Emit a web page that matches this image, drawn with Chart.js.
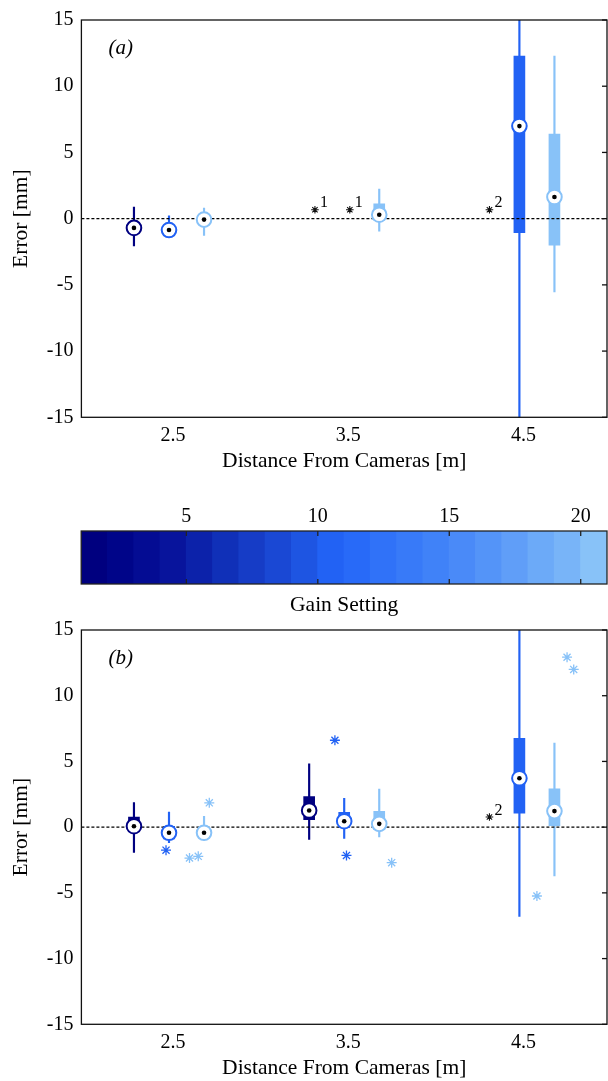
<!DOCTYPE html>
<html>
<head>
<meta charset="utf-8">
<script src="https://cdn.jsdelivr.net/npm/chart.js@4.4.0/dist/chart.umd.min.js"></script>
<style>
  body { margin: 0; background: #fff; }
  #fig { position: relative; width: 608px; height: 1081px; }
  canvas { position: absolute; left: 0; }
</style>
</head>
<body>
<div id="fig">
  <canvas id="chartA" width="608" height="480" style="top:0px"></canvas>
  <canvas id="gainBar" width="608" height="130" style="top:490px"></canvas>
  <canvas id="chartB" width="608" height="471" style="top:610px"></canvas>
</div>
<script>
// test distances [m] and the three gain settings that were compared
var distances = [2.5, 3.5, 4.5]
var gains = [1, 10, 20]
var xTicks = [2.5, 3.5, 4.5]
var yTicks = [-15, -10, -5, 0, 5, 10, 15]
var gainSteps = [1, 2, 3, 4, 5, 6, 7, 8, 9, 10, 11, 12, 13, 14, 15, 16, 17, 18, 19, 20]
var gainTicks = [5, 10, 15, 20]

// box summaries per distance: [whisker low, q1, median, q3, whisker high]; null = no result
var aGain1 = [[-2.05, -1.0, -0.7, -0.4, 0.87], null, null]
var aGain10 = [[-1.4, -1.15, -0.86, -0.55, 0.22], null, [-16, -1.06, 6.99, 12.28, 16]]
var aGain20 = [[-1.26, -0.4, -0.07, 0.25, 0.8], [-0.94, -0.1, 0.3, 1.12, 2.23], [-5.53, -2.01, 1.64, 6.38, 12.28]]

var bGain1 = [[-1.93, -0.3, 0.07, 0.77, 1.87], [-0.93, 0.57, 1.27, 2.32, 4.82], null]
var bGain10 = [[-1.18, -0.9, -0.43, 0.07, 1.15], [-0.85, 0.0, 0.45, 1.12, 2.19], [-6.79, 1.07, 3.72, 6.76, 16]]
var bGain20 = [[-1.0, -0.8, -0.43, -0.1, 0.82], [-0.75, -0.2, 0.25, 1.2, 2.89], [-3.72, 0.12, 1.22, 2.92, 6.39]]

// outliers [x, error]
var bOut10 = [[2.483, -1.75], [3.447, 6.61], [3.513, -2.15]]
var bOut20 = [[2.617, -2.35], [2.667, -2.22], [2.73, 1.85], [3.771, -2.7], [4.6, -5.24], [4.772, 12.93], [4.81, 12.0]]

// footnote markers [x, error, note]
var aNotes = [[3.333, 0.67, '1'], [3.532, 0.67, '1'], [4.329, 0.67, '2']]
var bNotes = [[4.329, 0.77, '2']]

var gainShift = [-0.2, 0, 0.2]
var gainColor = ['#000080', '#2262f4', '#88c2f8']
var barColors = ['#00007f', '#000589', '#040c93', '#08149c', '#0c22aa', '#1030b8', '#163cc6', '#1a48d4',
  '#1e55e2', '#2262f4', '#286af8', '#3072f8', '#387af8', '#4082f8', '#4a8af8', '#5494f8',
  '#609ef8', '#6caaf8', '#78b4f8', '#88c2f8']

var serif = "'Liberation Serif', 'Times New Roman', serif"
var tickFont = { family: serif, size: 20 }
var titleFont = { family: serif, size: 21.5 }

function boxSets(rows, gi) {
  var color = gainColor[gi]
  var whisk = [], box = [], med = []
  rows.forEach(function (r, i) {
    if (!r) return
    var x = distances[i] + gainShift[gi]
    whisk.push({ x: x, y: [r[0], r[4]] })
    box.push({ x: x, y: [r[1], r[3]] })
    med.push({ x: x, y: r[2] })
  })
  return [
    { type: 'bar', data: whisk, backgroundColor: color, barThickness: 1.5, grouped: false, order: 6 },
    { type: 'bar', data: box, backgroundColor: color, barThickness: 11, grouped: false, order: 5 },
    { type: 'scatter', data: med, pointRadius: 7.3, pointBorderWidth: 2, pointBackgroundColor: '#fff', pointBorderColor: color, order: 2 },
    { type: 'scatter', data: med, pointRadius: 2.3, pointBorderWidth: 0, pointBackgroundColor: '#000', order: 1 }
  ]
}

function outlierSet(pts, gi) {
  return {
    type: 'scatter', order: 3,
    data: pts.map(function (p) { return { x: p[0], y: p[1] } }),
    pointStyle: 'star', pointRadius: 5, pointBorderWidth: 1.3, pointBorderColor: gainColor[gi]
  }
}

function noteSet(notes) {
  return {
    type: 'scatter', order: 3,
    data: notes.map(function (n) { return { x: n[0], y: n[1] } }),
    pointStyle: 'star', pointRadius: 3.8, pointBorderWidth: 1.1, pointBorderColor: '#111'
  }
}

// box outline, inward ticks on the right edge, panel tag and footnote numbers
var framePlugin = {
  id: 'frame',
  afterDatasetsDraw: function (chart, args, opts) {
    var a = chart.chartArea, ctx = chart.ctx
    var xs = chart.scales.x, ys = chart.scales.y
    ctx.save()
    ctx.strokeStyle = '#111'
    ctx.lineWidth = 1.3
    yTicks.forEach(function (v) {
      var py = ys.getPixelForValue(v)
      ctx.beginPath()
      ctx.moveTo(a.right, py)
      ctx.lineTo(a.right - 5, py)
      ctx.stroke()
    })
    ctx.strokeRect(a.left, a.top, a.right - a.left, a.bottom - a.top)
    ctx.fillStyle = '#000'
    ctx.textBaseline = 'middle'
    ctx.font = 'italic 21px ' + serif
    ctx.fillText(opts.tag, a.left + 27, a.top + 28)
    ctx.font = '16px ' + serif
    ctx.textAlign = 'center'
    opts.notes.forEach(function (n) {
      ctx.fillText(n[2], xs.getPixelForValue(n[0]) + 9, ys.getPixelForValue(n[1]) - 6.5)
    })
    ctx.restore()
  }
}

function panel(id, sets, tag, notes, axisH, titlePad) {
  var zero = {
    type: 'line', order: 4, data: [{ x: 2, y: 0 }, { x: 5, y: 0 }],
    borderColor: '#000', borderWidth: 1.2, borderDash: [3, 2], pointRadius: 0
  }
  return new Chart(document.getElementById(id), {
    type: 'bar',
    data: { datasets: [zero].concat(sets) },
    options: {
      responsive: false,
      animation: false,
      layout: { autoPadding: false, padding: { left: 0, right: 1, top: 14, bottom: 0 } },
      plugins: { legend: { display: false }, tooltip: { enabled: false }, frame: { tag: tag, notes: notes } },
      scales: {
        x: {
          type: 'linear', min: 2, max: 5, offset: false,
          afterBuildTicks: function (s) { s.ticks = xTicks.map(function (v) { return { value: v } }) },
          afterFit: function (s) { s.height = axisH },
          ticks: { font: tickFont, color: '#000', padding: 6, labelOffset: 4, maxRotation: 0, callback: function (v) { return v.toFixed(1) } },
          grid: { display: false, drawTicks: false },
          border: { display: false },
          title: { display: true, text: 'Distance From Cameras [m]', font: titleFont, color: '#000', padding: { top: 0, bottom: titlePad } }
        },
        y: {
          min: -15, max: 15,
          afterBuildTicks: function (s) { s.ticks = yTicks.map(function (v) { return { value: v } }) },
          afterFit: function (s) { s.width = 81.4 },
          ticks: { font: tickFont, color: '#000', padding: 8, callback: function (v) { return String(v) } },
          grid: { display: false, drawTicks: false },
          border: { display: false },
          title: { display: true, text: 'Error [mm]', font: titleFont, color: '#000', padding: { top: 8, bottom: 0 } }
        }
      }
    },
    plugins: [framePlugin]
  })
}

var setsA = [].concat(boxSets(aGain1, 0), boxSets(aGain10, 1), boxSets(aGain20, 2), [noteSet(aNotes)])
var setsB = [].concat(boxSets(bGain1, 0), boxSets(bGain10, 1), boxSets(bGain20, 2),
  [outlierSet(bOut10, 1), outlierSet(bOut20, 2), noteSet(bNotes)])

panel('chartA', setsA, '(a)', aNotes, 62.7, 5.7)
panel('chartB', setsB, '(b)', bNotes, 56.7, 0)

// gain colour bar: one block per gain step, ticks pointing in from both edges
var barFrame = {
  id: 'barFrame',
  afterDatasetsDraw: function (chart) {
    var a = chart.chartArea, ctx = chart.ctx, xs = chart.scales.x
    ctx.save()
    ctx.strokeStyle = '#222'
    ctx.lineWidth = 1.3
    gainTicks.forEach(function (v) {
      var px = xs.getPixelForValue(v)
      ctx.beginPath()
      ctx.moveTo(px, a.top)
      ctx.lineTo(px, a.top + 5)
      ctx.moveTo(px, a.bottom)
      ctx.lineTo(px, a.bottom - 5)
      ctx.stroke()
    })
    ctx.strokeRect(a.left, a.top, a.right - a.left, a.bottom - a.top)
    ctx.restore()
  }
}

new Chart(document.getElementById('gainBar'), {
  type: 'bar',
  data: {
    datasets: [{
      data: gainSteps.map(function (g) { return { x: g + 0.5, y: 1 } }),
      backgroundColor: barColors,
      borderWidth: 0,
      barPercentage: 1.04,
      categoryPercentage: 1,
      grouped: false
    }]
  },
  options: {
    responsive: false,
    animation: false,
    layout: { autoPadding: false, padding: { left: 81.2, right: 1, top: 0, bottom: 0 } },
    plugins: { legend: { display: false }, tooltip: { enabled: false } },
    scales: {
      x: {
        type: 'linear', position: 'top', min: 1, max: 21, offset: false,
        afterBuildTicks: function (s) { s.ticks = gainTicks.map(function (v) { return { value: v } }) },
        afterFit: function (s) { s.height = 41 },
        ticks: { font: tickFont, color: '#000', padding: 2, maxRotation: 0 },
        grid: { display: false, drawTicks: false },
        border: { display: false }
      },
      x2: {
        type: 'linear', position: 'bottom', min: 1, max: 21, offset: false,
        afterFit: function (s) { s.height = 36 },
        ticks: { display: false },
        grid: { display: false, drawTicks: false },
        border: { display: false },
        title: { display: true, text: 'Gain Setting', font: titleFont, color: '#000', padding: { top: 0, bottom: 2 } }
      },
      y: { display: false, min: 0, max: 1 }
    }
  },
  plugins: [barFrame]
})
</script>
</body>
</html>
